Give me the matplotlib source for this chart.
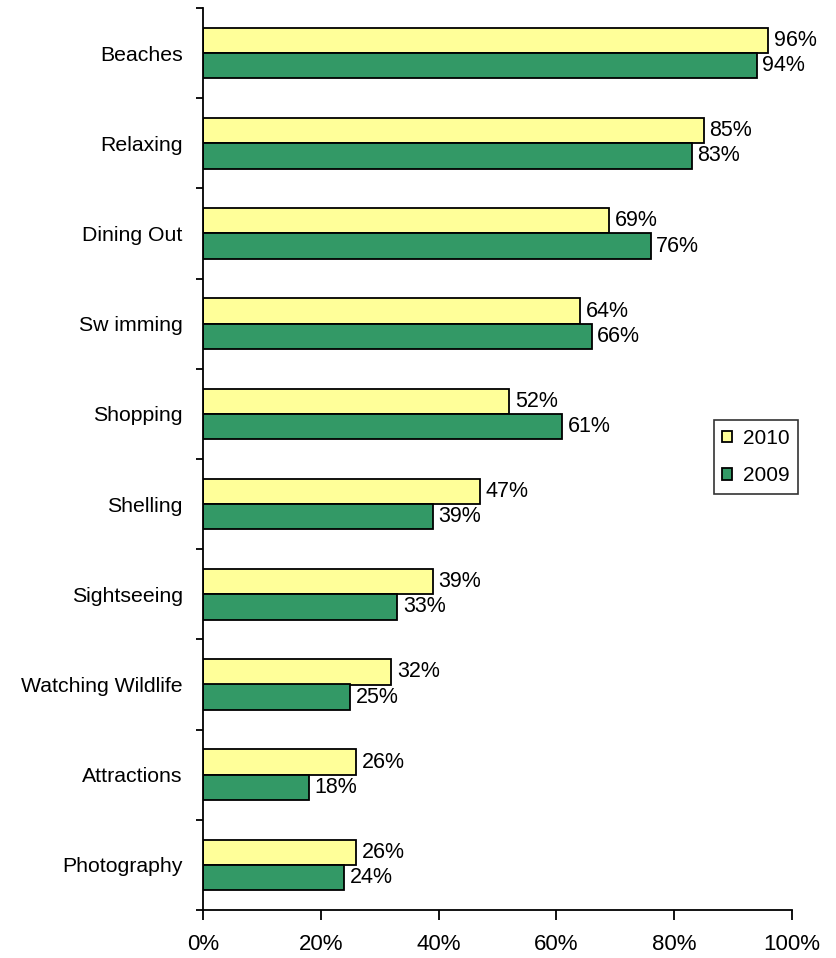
import matplotlib
matplotlib.use("Agg")
import matplotlib.pyplot as plt
import numpy as np

plt.rcParams['font.family'] = ['Liberation Sans', 'DejaVu Sans']

categories = ["Beaches", "Relaxing", "Dining Out", "Sw imming", "Shopping",
              "Shelling", "Sightseeing", "Watching Wildlife", "Attractions", "Photography"]
vals_2010 = [96, 85, 69, 64, 52, 47, 39, 32, 26, 26]
vals_2009 = [94, 83, 76, 66, 61, 39, 33, 25, 18, 24]
xticks = [0, 20, 40, 60, 80, 100]
xtick_labels = ["0%", "20%", "40%", "60%", "80%", "100%"]

c2010 = "#FFFF99"
c2009 = "#339966"

fig = plt.figure(figsize=(8.36, 9.58), dpi=100)
ax = fig.add_axes([203/836, 1 - 910/958, (792-203)/836, (910-8)/958])

n = len(categories)
pos = np.arange(n)
h = 0.28
b1 = ax.barh(pos - h/2, vals_2010, height=h, color=c2010, edgecolor="black", linewidth=1.3, label="2010")
b2 = ax.barh(pos + h/2, vals_2009, height=h, color=c2009, edgecolor="black", linewidth=1.3, label="2009")

for bars, vals in ((b1, vals_2010), (b2, vals_2009)):
    for rect, v in zip(bars, vals):
        ax.annotate(f"{v}%", (v, rect.get_y() + rect.get_height()/2), xytext=(4, 0),
                    textcoords="offset points", ha="left", va="center", fontsize=15.5)

ax.set_ylim(n - 0.5, -0.5)
ax.set_xlim(0, 100)
ax.set_yticks(pos)
ax.set_yticklabels(categories, fontsize=15.3)
ax.tick_params(axis="y", which="major", length=0, pad=14.5)
ax.set_yticks(np.arange(-0.5, n, 1), minor=True)
ax.tick_params(axis="y", which="minor", length=5, width=1.3, direction="out")
ax.set_xticks(xticks)
ax.set_xticklabels(xtick_labels, fontsize=16)
ax.tick_params(axis="x", length=7, width=1.3, direction="out", pad=10.5)

for s in ("top", "right"):
    ax.spines[s].set_visible(False)
for s in ("left", "bottom"):
    ax.spines[s].set_linewidth(1.3)

leg = ax.legend(loc="center left", bbox_to_anchor=((714-203)/(792-203), 1 - (457-8)/902),
                frameon=True, fancybox=False, edgecolor="black", fontsize=15,
                handlelength=0.45, handleheight=0.45, handletextpad=0.55,
                labelspacing=0.9, borderpad=0.4, borderaxespad=0)
leg.get_frame().set_linewidth(1.2)

fig.savefig("out.png", dpi=100)
